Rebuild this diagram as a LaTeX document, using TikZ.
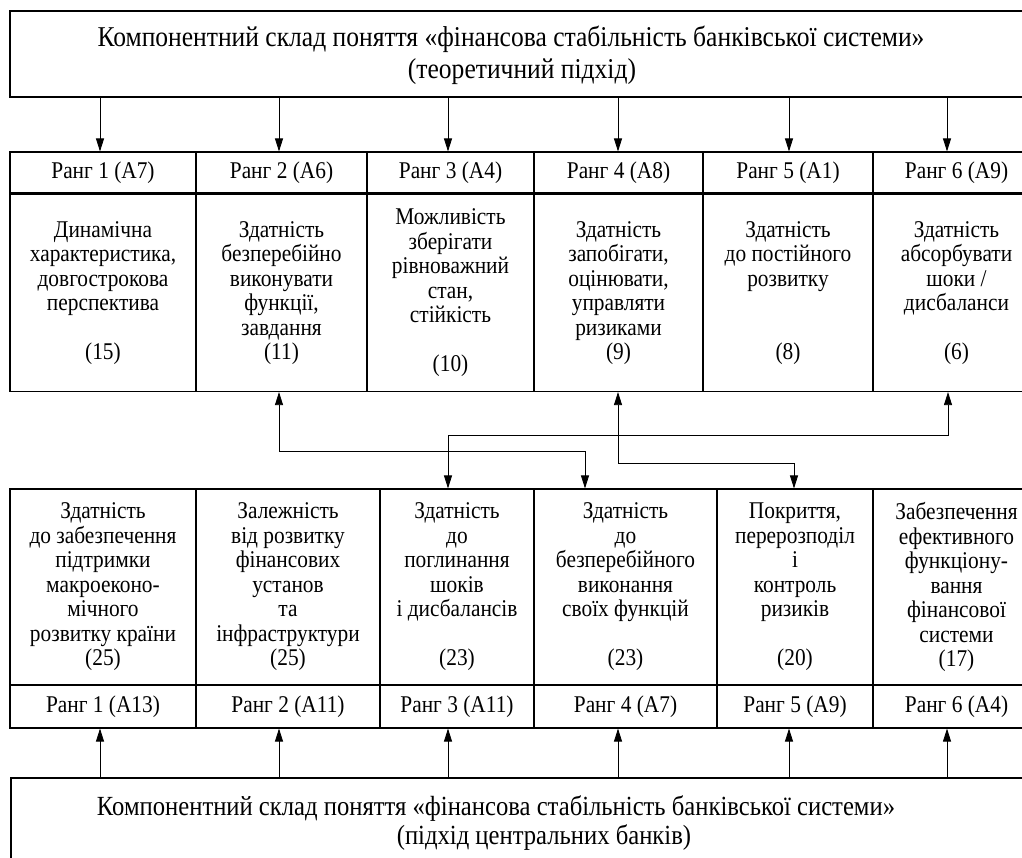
\documentclass[tikz,border=0pt]{standalone}
\usepackage{fontspec}
\setmainfont{Liberation Serif}[FakeStretch=0.89]
\usetikzlibrary{arrows.meta}

\begin{document}
\begin{tikzpicture}[
    x=1pt, y=-1pt,
    rank/.style={draw, line width=1.1pt, inner sep=0pt,
                 font=\fontsize{24}{24.5}\selectfont},
    cell/.style={draw, line width=1.1pt, inner sep=0pt, align=center,
                 font=\fontsize{24}{24.5}\selectfont},
    head/.style={draw, line width=1.1pt, minimum width=1020pt, inner sep=0pt},
    title/.style={align=center, inner sep=0pt},
    arr/.style={-{Triangle[length=13pt,width=8pt]}, line width=0.8pt},
    dbl/.style={{Triangle[length=13pt,width=8pt]}-{Triangle[length=13pt,width=8pt]}, line width=0.8pt}
  ]
    \useasboundingbox (0,0) rectangle (1022,857);
    \clip (0,0) rectangle (1022,857);

    % theoretical approach
    \node[head, minimum height=86pt] (top) at (520,54) {};
    \node[title, font=\fontsize{28.7}{32}\selectfont] (toplbl) at (511,55)
      {Компонентний склад поняття «фінансова стабільність банківської системи»\\\hspace*{22pt}(теоретичний підхід)};

    \node[rank, minimum width=186pt, minimum height=41pt] (ra1) at (103,172.5)   {Ранг 1 (А7)};
    \node[rank, minimum width=171pt, minimum height=41pt] (ra2) at (281.5,172.5) {Ранг 2 (А6)};
    \node[rank, minimum width=167pt, minimum height=41pt] (ra3) at (450.5,172.5) {Ранг 3 (А4)};
    \node[rank, minimum width=169pt, minimum height=41pt] (ra4) at (618.5,172.5) {Ранг 4 (А8)};
    \node[rank, minimum width=170pt, minimum height=41pt] (ra5) at (788,172.5)   {Ранг 5 (А1)};
    \node[rank, minimum width=167pt, minimum height=41pt] (ra6) at (956.5,172.5) {Ранг 6 (А9)};

    \node[cell, minimum width=186pt, minimum height=197pt] (ca1) at (103,293)
      {Динамічна\\характеристика,\\довгострокова\\перспектива\\ \\(15)};
    \node[cell, minimum width=171pt, minimum height=197pt] (ca2) at (281.5,293)
      {Здатність\\безперебійно\\виконувати\\функції,\\завдання\\(11)};
    \node[cell, minimum width=167pt, minimum height=197pt] (ca3) at (450.5,293)
      {Можливість\\зберігати\\рівноважний\\стан,\\стійкість\\ \\(10)};
    \node[cell, minimum width=169pt, minimum height=197pt] (ca4) at (618.5,293)
      {Здатність\\запобігати,\\оцінювати,\\управляти\\ризиками\\(9)};
    \node[cell, minimum width=170pt, minimum height=197pt] (ca5) at (788,293)
      {Здатність\\до постійного\\розвитку\\ \\ \\(8)};
    \node[cell, minimum width=167pt, minimum height=197pt] (ca6) at (956.5,293)
      {Здатність\\абсорбувати\\шоки /\\дисбаланси\\ \\(6)};

    % central banks approach
    \node[cell, minimum width=186pt, minimum height=196pt] (cb1) at (103,587)
      {Здатність\\до забезпечення\\підтримки\\макроеконо-\\мічного\\розвитку країни\\(25)};
    \node[cell, minimum width=184pt, minimum height=196pt] (cb2) at (288,587)
      {Залежність\\від розвитку\\фінансових\\установ\\та\\інфраструктури\\(25)};
    \node[cell, minimum width=154pt, minimum height=196pt] (cb3) at (457,587)
      {Здатність\\до\\поглинання\\шоків\\і дисбалансів\\ \\(23)};
    \node[cell, minimum width=183pt, minimum height=196pt] (cb4) at (625.5,587)
      {Здатність\\до\\безперебійного\\виконання\\своїх функцій\\ \\(23)};
    \node[cell, minimum width=156pt, minimum height=196pt] (cb5) at (795,587)
      {Покриття,\\перерозподіл\\і\\контроль\\ризиків\\ \\(20)};
    \node[cell, minimum width=167pt, minimum height=196pt] (cb6) at (956.5,587)
      {Забезпечення\\ефективного\\функціону-\\вання\\фінансової\\системи\\(17)};

    \node[rank, minimum width=186pt, minimum height=43pt] (rb1) at (103,706.5)   {Ранг 1 (А13)};
    \node[rank, minimum width=184pt, minimum height=43pt] (rb2) at (288,706.5)   {Ранг 2 (А11)};
    \node[rank, minimum width=154pt, minimum height=43pt] (rb3) at (457,706.5)   {Ранг 3 (А11)};
    \node[rank, minimum width=183pt, minimum height=43pt] (rb4) at (625.5,706.5) {Ранг 4 (А7)};
    \node[rank, minimum width=156pt, minimum height=43pt] (rb5) at (795,706.5)   {Ранг 5 (А9)};
    \node[rank, minimum width=167pt, minimum height=43pt] (rb6) at (956.5,706.5) {Ранг 6 (А4)};

    \node[head, minimum height=88pt] (bot) at (521,822) {};
    \node[title, font=\fontsize{27.7}{29}\selectfont] (botlbl) at (496,823)
      {Компонентний склад поняття «фінансова стабільність банківської системи»\\\hspace*{96pt}(підхід центральних банків)};

    \foreach \x/\n in {100/ra1,279/ra2,448/ra3,618/ra4,789/ra5,947/ra6}
      \draw[arr] (\x,0 |- top.south) -- (\x,0 |- \n.north);
    \foreach \x/\n in {100/rb1,279/rb2,448/rb3,618/rb4,789/rb5,947/rb6}
      \draw[arr] (\x,0 |- bot.north) -- (\x,0 |- \n.south);

    % links between the two rankings
    \draw[dbl] (279,0 |- ca2.south) |- (585,451) -- (585,0 |- cb4.north);
    \draw[dbl] (618,0 |- ca4.south) |- (794,463) -- (794,0 |- cb5.north);
    \draw[dbl] (948,0 |- ca6.south) |- (448,435) -- (448,0 |- cb3.north);
  \end{tikzpicture}
\end{document}
